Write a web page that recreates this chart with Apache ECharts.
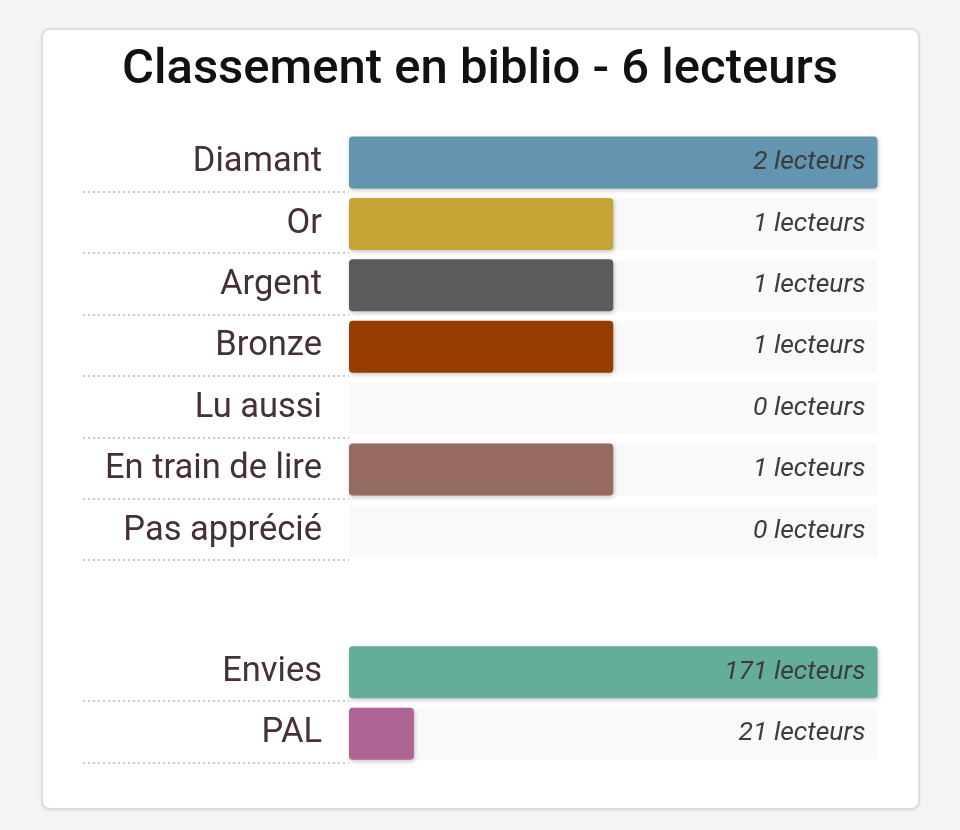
<!DOCTYPE html>
<html>
<head>
<meta charset="utf-8">
<script src="https://cdn.jsdelivr.net/npm/echarts@6/dist/echarts.min.js"></script>
<style>
  html, body { margin:0; padding:0; background:#f4f4f4; width:960px; height:830px; overflow:hidden; }
  #card { position:absolute; left:41px; top:28px; width:875px; height:778px; background:#fff;
          border:2px solid #dedede; border-radius:9px; box-shadow:0 1px 3px rgba(0,0,0,0.08); }
  #chart { position:absolute; left:0; top:0; width:960px; height:830px; }
</style>
</head>
<body>
<div id="card"></div>
<div id="chart"></div>
<script>
const titleText = 'Classement en biblio - 6 lecteurs';
const rankCategories = ['Diamant', 'Or', 'Argent', 'Bronze', 'Lu aussi', 'En train de lire', 'Pas apprécié'];
const rankValues = [2, 1, 1, 1, 0, 1, 0];
const rankColors = ['#6394b0', '#c7a234', '#5b5b5b', '#963c00', '#bbbbbb', '#976a5f', '#bbbbbb'];
const listCategories = ['Envies', 'PAL'];
const listValues = [171, 21];
const listColors = ['#64ad9a', '#ae6593'];
const unit = ' lecteurs';

const FONT = 'Roboto';
const labelColor = '#45303a';

function barData(vals, colors) {
  return vals.map((v, i) => ({ value: v, itemStyle: { color: colors[i] } }));
}

const chart = echarts.init(document.getElementById('chart'));
const option = {
  animation: false,
  title: {
    text: titleText, left: 'center', top: 41,
    textStyle: { fontFamily: FONT, fontSize: 49, fontWeight: 500, color: '#111' }
  },
  grid: [
    { left: 349, right: 82.5, top: 131.8, height: 429.8 },
    { left: 349, right: 82.5, top: 641.4, height: 123 },
    { left: 83, width: 266, top: 130.3, height: 429.8 },
    { left: 83, width: 266, top: 639.5, height: 123 }
  ],
  xAxis: [0, 1, 2, 3].map(g => ({
    type: 'value', gridIndex: g, min: 0, max: g < 2 ? 'dataMax' : 1, show: false
  })),
  yAxis: [
    { type: 'category', gridIndex: 0, inverse: true, data: rankCategories,
      axisLine: { show: false }, axisTick: { show: false },
      axisLabel: { margin: 27, fontFamily: FONT, fontSize: 34.5, color: labelColor } },
    { type: 'category', gridIndex: 1, inverse: true, data: listCategories,
      axisLine: { show: false }, axisTick: { show: false },
      axisLabel: { margin: 27, fontFamily: FONT, fontSize: 34.5, color: labelColor } },
    { type: 'category', gridIndex: 2, inverse: true, data: rankCategories,
      axisLine: { show: false }, axisTick: { show: false }, axisLabel: { show: false },
      splitLine: { show: true, showMinLine: false, lineStyle: { type: [2, 3], width: 2, color: '#c9c9c9' } } },
    { type: 'category', gridIndex: 3, inverse: true, data: listCategories,
      axisLine: { show: false }, axisTick: { show: false }, axisLabel: { show: false },
      splitLine: { show: true, showMinLine: false, lineStyle: { type: [2, 3], width: 2, color: '#c9c9c9' } } },
    { type: 'category', gridIndex: 0, inverse: true, position: 'right', z: 10, data: rankValues.map(v => v + unit),
      axisLine: { show: false }, axisTick: { show: false },
      axisLabel: { inside: true, margin: 12, fontFamily: FONT, fontStyle: 'italic', fontSize: 26.5, color: '#3c3c3c' } },
    { type: 'category', gridIndex: 1, inverse: true, position: 'right', z: 10, data: listValues.map(v => v + unit),
      axisLine: { show: false }, axisTick: { show: false },
      axisLabel: { inside: true, margin: 12, fontFamily: FONT, fontStyle: 'italic', fontSize: 26.5, color: '#3c3c3c' } }
  ],
  series: [
    { type: 'bar', xAxisIndex: 0, yAxisIndex: 0, barWidth: 52, data: barData(rankValues, rankColors),
      showBackground: true, backgroundStyle: { color: '#f9f9f9' },
      itemStyle: { borderRadius: 4, shadowBlur: 4, shadowOffsetX: 1, shadowOffsetY: 2, shadowColor: 'rgba(0,0,0,0.22)' } },
    { type: 'bar', xAxisIndex: 1, yAxisIndex: 1, barWidth: 52, data: barData(listValues, listColors),
      showBackground: true, backgroundStyle: { color: '#f9f9f9' },
      itemStyle: { borderRadius: 4, shadowBlur: 4, shadowOffsetX: 1, shadowOffsetY: 2, shadowColor: 'rgba(0,0,0,0.22)' } }
  ]
};
chart.setOption(option);
</script>
</body>
</html>
